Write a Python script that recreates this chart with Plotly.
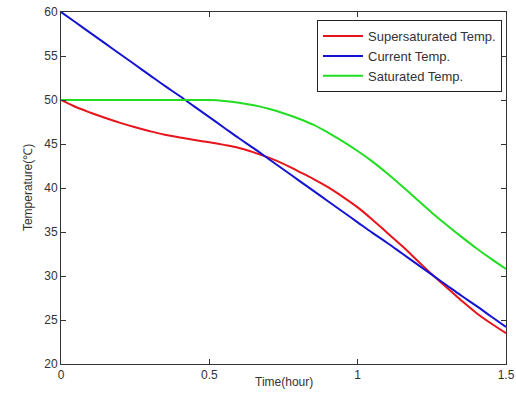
import plotly.graph_objects as go

time_h = [0.0, 0.05, 0.1, 0.15, 0.2, 0.25, 0.3, 0.35, 0.4, 0.45, 0.5, 0.55, 0.6, 0.65, 0.7, 0.75,
          0.8, 0.85, 0.9, 0.95, 1.0, 1.05, 1.1, 1.15, 1.2, 1.25, 1.3, 1.35, 1.4, 1.45, 1.5]

supersaturated = [50.0, 49.2, 48.55, 47.95, 47.4, 46.9, 46.45, 46.05, 45.75, 45.45, 45.2, 44.9,
                  44.55, 44.05, 43.45, 42.75, 41.9, 41.05, 40.1, 39.0, 37.8, 36.4, 34.9, 33.4,
                  31.8, 30.2, 28.7, 27.2, 25.8, 24.6, 23.5]

current = [60.0, 58.8, 57.6, 56.4, 55.2, 54.0, 52.8, 51.6, 50.45, 49.25, 48.05, 46.85, 45.65,
           44.5, 43.3, 42.1, 40.9, 39.7, 38.5, 37.3, 36.1, 34.9, 33.75, 32.55, 31.35, 30.15,
           28.95, 27.75, 26.6, 25.4, 24.2]

saturated = [50.0, 50.0, 50.0, 50.0, 50.0, 50.0, 50.0, 50.0, 50.0, 50.0, 50.0, 49.9, 49.7,
             49.4, 49.0, 48.5, 47.9, 47.2, 46.3, 45.3, 44.2, 43.0, 41.65, 40.2, 38.7, 37.2,
             35.8, 34.45, 33.15, 31.95, 30.8]

series_names = ["Supersaturated Temp.", "Current Temp.", "Saturated Temp."]
series_colors = ["#e8141b", "#1414d2", "#22dd22"]

x_ticks = [0, 0.5, 1, 1.5]
x_tick_labels = ["0", "0.5", "1", "1.5"]
y_ticks = [20, 25, 30, 35, 40, 45, 50, 55, 60]
x_title = "Time(hour)"
y_title = "Temperature(℃)"

fig = go.Figure()
for name, vals, col in zip(series_names, [supersaturated, current, saturated], series_colors):
    fig.add_trace(go.Scatter(x=time_h, y=vals, mode="lines", name=name,
                             line=dict(color=col, width=2, shape="spline")))

axis_common = dict(showgrid=False, zeroline=False, showline=True, linecolor="#333333",
                   linewidth=1, mirror="ticks", ticks="inside", ticklen=5,
                   tickcolor="#333333", automargin=False,
                   tickfont=dict(family="Liberation Sans, Arial", size=12, color="#333333"))

fig.update_layout(
    width=516, height=402,
    margin=dict(l=61, r=10, t=12, b=38),
    paper_bgcolor="white", plot_bgcolor="white",
    font=dict(family="Liberation Sans, Arial", size=12, color="#333333"),
    xaxis=dict(range=[0, 1.5], tickvals=x_ticks, ticktext=x_tick_labels, **axis_common),
    yaxis=dict(range=[20, 60], tickvals=y_ticks, **axis_common),
    legend=dict(x=0.991, y=0.977, xanchor="right", yanchor="top",
                bgcolor="white", bordercolor="#222222", borderwidth=1,
                font=dict(size=13, color="#333333"), tracegroupgap=0,
                itemwidth=40),
    showlegend=True,
    annotations=[
        dict(text=x_title, xref="paper", yref="paper", x=0.5, y=-0.051,
             xanchor="center", yanchor="middle", showarrow=False,
             font=dict(size=12, color="#333333")),
        dict(text=y_title, xref="paper", yref="paper", x=-0.074, y=0.5,
             xanchor="center", yanchor="middle", textangle=-90, showarrow=False,
             font=dict(size=12, color="#333333")),
    ],
)

fig.write_html("out.html")
